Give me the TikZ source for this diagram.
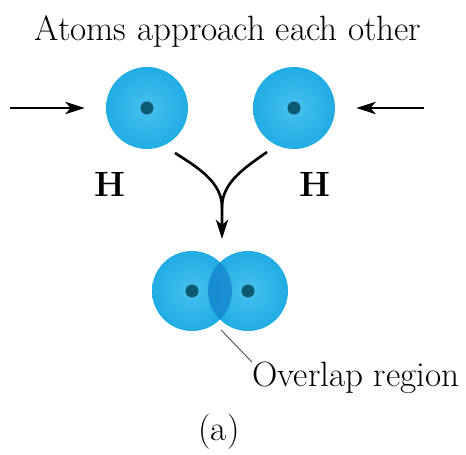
\documentclass[tikz,border=0pt]{standalone}
\usepackage{tikz}
\usetikzlibrary{arrows.meta,positioning}
\definecolor{shellblue}{HTML}{20ACE4}
\definecolor{shelllight}{HTML}{48C2EE}
\definecolor{lensblue}{HTML}{1482CC}
\definecolor{nucleus}{HTML}{0B5A72}
\tikzset{
  atom/.style={circle,inner sep=0pt,minimum size=1.64cm,inner color=shelllight,outer color=shellblue},
  push/.style={line width=1.5pt,-{Stealth[length=11pt,width=7pt,inset=3pt]}},
}
\newcommand{\nucl}[1]{\fill[nucleus] (#1) circle (0.13cm);}

\begin{document}
\begin{tikzpicture}[x=0.02cm,y=0.02cm,font=\fontsize{20}{24}\selectfont]
\useasboundingbox (0,0) rectangle (466,455);
\node[anchor=base] (title) at (228,414) {Atoms approach each other};
% the two separate atoms
\node[atom] (ha) at (147,347) {}; \nucl{ha}
\node[atom] (hb) at (294,347) {}; \nucl{hb}
\coordinate (ina) at (10,347); \coordinate (inb) at (424,347);
\draw[push,shorten >=0.42cm] (ina) -- (ha.west);
\draw[push,shorten >=0.42cm] (inb) -- (hb.east);
\node[anchor=base,font=\fontsize{20}{24}\selectfont\bfseries] (la) at (110,258) {H};
\node[anchor=base,font=\fontsize{20}{24}\selectfont\bfseries] (lb) at (315,258) {H};
% molecule
\node[atom,minimum size=1.6cm] (ma) at (192,164) {};
\node[atom,minimum size=1.6cm] (mb) at (248,164) {};
\begin{scope}
  \clip (ma.center) circle (0.8cm);
  \fill[lensblue,opacity=.75] (mb.center) circle (0.8cm);
\end{scope}
\nucl{ma}\nucl{mb}
% merging arrow
\coordinate (ca) at (175,302); \coordinate (cb) at (267,303);
\coordinate (cm) at (222,248); \coordinate (tip) at (222,216);
\draw[line width=1.5pt] (cb) .. controls (246,288) and (222,273) .. (cm);
\draw[push] (ca) .. controls (197,288) and (222,273) .. (cm) -- (tip);
% label for the overlap
\coordinate (lens) at (221,125);
\node[anchor=base west,inner sep=0pt] (ovl) at (252,68) {Overlap region};
\draw[gray!60!black,line width=0.5pt] (lens) -- (ovl.north west);
\node[anchor=base] (cap) at (219,14) {(a)};
\end{tikzpicture}
\end{document}
